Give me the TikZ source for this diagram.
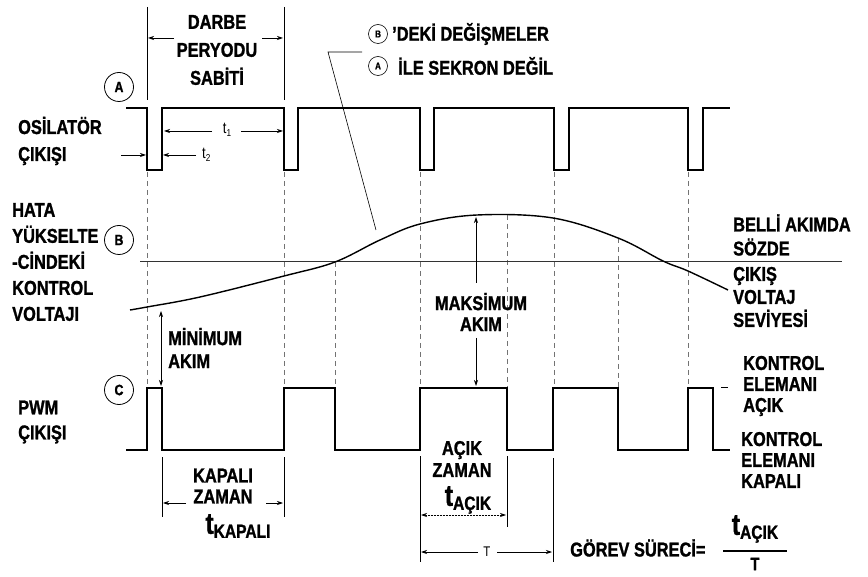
\documentclass[tikz,border=0pt]{standalone}
\usepackage{fontspec}
\setmainfont{Liberation Sans}[FakeStretch=0.82, BoldFeatures={FakeBold=1.2}]
\usetikzlibrary{arrows.meta}
\newcommand{\bigt}[1]{{\fontsize{30}{30}\selectfont t}\raisebox{-4pt}{\fontsize{19}{19}\selectfont #1}}
\newcommand{\smallt}[1]{t\raisebox{-3pt}{\fontsize{10}{10}\selectfont #1}}
\tikzset{
  lab/.style={font=\fontsize{20}{#1}\selectfont\bfseries, inner sep=0pt, align=left, anchor=west},
  lab/.default=20,
  clab/.style={font=\fontsize{20}{#1}\selectfont\bfseries, inner sep=0pt, align=center, anchor=center},
  clab/.default=20,
  wave/.style={line width=1.6pt, line join=miter},
  guide/.style={dash pattern=on 5pt off 4pt, line width=0.7pt, color=black!55},
  dim/.style={line width=0.6pt},
  arr/.style={-{Stealth[length=6pt,width=4pt]}, line width=0.7pt},
  circ/.style={circle, draw, line width=0.8pt, minimum size=29pt, inner sep=0pt, font=\fontsize{15}{15}\selectfont\bfseries},
  scirc/.style={circle, draw, line width=0.6pt, minimum size=19pt, inner sep=0pt, font=\fontsize{10}{10}\selectfont\bfseries},
}
\begin{document}
\begin{tikzpicture}[x=1pt,y=-1pt]
\useasboundingbox (0,0) rectangle (868,577);

% vertical guides
\foreach \x/\ya in {147/172,284/172,335/262,420/172,507/215,554/172,618/238,688/172}
  \draw[guide] (\x,\ya) -- (\x,388);

% reference line
\draw[line width=0.6pt, black!80] (140,261) -- (842,261);

% error amplifier curve
\draw[line width=1.4pt] plot[smooth, tension=0.6] coordinates {(130,310) (147,307) (200,297) (284,276) (335,262) (380,240) (420,224) (477,215) (553,218) (618,238) (663,261) (688,271) (728,290)};

% oscillator waveform
\draw[wave] (126,108) -- (147,108) -- (147,170) -- (162,170) -- (162,108) -- (284,108) -- (284,170) -- (298,170) -- (298,108) -- (420,108) -- (420,170) -- (434,170) -- (434,108) -- (554,108) -- (554,170) -- (569,170) -- (569,108) -- (688,108) -- (688,170) -- (703,170) -- (703,108) -- (730,108);

% PWM waveform
\draw[wave] (126,450) -- (147,450) -- (147,388) -- (162,388) -- (162,450) -- (284,450) -- (284,388) -- (335,388) -- (335,450) -- (420,450) -- (420,388) -- (507,388) -- (507,450) -- (553,450) -- (553,388) -- (618,388) -- (618,450) -- (688,450) -- (688,388) -- (713,388) -- (713,450) -- (730,450);

% circles
\node[circ] (cA) at (119,87) {A};
\node[circ] (cB) at (119,240) {B};
\node[circ] (cC) at (119,390) {C};

% left labels
\node[lab=27] (osc) at (18,141) {OSİLATÖR\\ÇIKIŞI};
\node[lab=26] (hata) at (12,262) {HATA\\YÜKSELTE\\-CİNDEKİ\\KONTROL\\VOLTAJI};
\node[lab=25] (pwm) at (18,422) {PWM\\ÇIKIŞI};

% darbe peryodu
\coordinate (dlt) at (147,7); \coordinate (dlb) at (147,100);
\coordinate (drt) at (284,7); \coordinate (drb) at (284,100);
\draw[dim] (dlt) -- (dlb);
\draw[dim] (drt) -- (drb);
\node[clab=28] (darbe) at (217,50) {DARBE\\PERYODU\\SABİTİ};
\coordinate (da1) at (174,38); \coordinate (da2) at (148,38);
\coordinate (da3) at (262,38); \coordinate (da4) at (283,38);
\draw[arr] (da1) -- (da2);
\draw[arr] (da3) -- (da4);

% t1, t2
\node[font=\fontsize{16}{16}\selectfont, inner sep=1pt] (t1) at (227,130) {\smallt{1}};
\coordinate (t1l) at (164,131); \coordinate (t1r) at (283,131);
\coordinate (t1a) at (212,131); \coordinate (t1b) at (241,131);
\draw[arr] (t1a) -- (t1l);
\draw[arr] (t1b) -- (t1r);
\node[font=\fontsize{16}{16}\selectfont, inner sep=1pt, anchor=west] (t2) at (201,155) {\smallt{2}};
\coordinate (t2a) at (121,155); \coordinate (t2b) at (146,155);
\coordinate (t2c) at (196,155); \coordinate (t2d) at (163,155);
\draw[arr] (t2a) -- (t2b);
\draw[arr] (t2c) -- (t2d);

% annotation top
\node[scirc] (sB) at (378,34) {B};
\node[lab] (deki) at (392,34) {'DEKİ DEĞİŞMELER};
\node[scirc] (sA) at (378,66) {A};
\node[lab] (ile) at (398,66) {İLE SEKRON DEĞİL};
\coordinate (l1) at (362,52); \coordinate (l2) at (328,52); \coordinate (l3) at (376,230);
\draw[dim] (l1) -- (l2) -- (l3);

% minimum current
\coordinate (mn1) at (161,311); \coordinate (mn2) at (161,386);
\draw[{Stealth[length=6pt,width=4pt]}-{Stealth[length=6pt,width=4pt]}, line width=0.7pt] (mn1) -- (mn2);
\node[lab=23] (minim) at (168,348) {MİNİMUM\\AKIM};

% maximum current
\node[clab=21] (maks) at (481,312) {MAKSİMUM\\AKIM};
\coordinate (mx1) at (476,283); \coordinate (mx2) at (476,217);
\coordinate (mx3) at (476,338); \coordinate (mx4) at (476,386);
\draw[arr] (mx1) -- (mx2);
\draw[arr] (mx3) -- (mx4);

% right labels
\node[lab=24] (belli) at (733,235) {BELLİ AKIMDA\\SÖZDE};
\node[lab=23] (cikis) at (733,297) {ÇIKIŞ\\VOLTAJ\\SEVİYESİ};
\node[lab=21] (kacik) at (743,386) {KONTROL\\ELEMANI\\AÇIK};
\coordinate (kd1) at (721,387); \coordinate (kd2) at (728,387);
\draw[line width=0.6pt] (kd1) -- (kd2);
\node[lab=21] (kkapali) at (741,460) {KONTROL\\ELEMANI\\KAPALI};

% kapali zaman
\coordinate (k1t) at (162,457); \coordinate (k1b) at (162,517);
\coordinate (k2t) at (284,457); \coordinate (k2b) at (284,517);
\draw[dim] (k1t) -- (k1b);
\draw[dim] (k2t) -- (k2b);
\coordinate (ka1) at (186,503); \coordinate (ka2) at (163,503);
\coordinate (ka3) at (266,503); \coordinate (ka4) at (283,503);
\draw[arr] (ka1) -- (ka2);
\draw[arr] (ka3) -- (ka4);
\node[clab=21] (kapz) at (223,486) {KAPALI\\ZAMAN};
\node[font=\bfseries, inner sep=0pt] (tkap) at (238,526) {\bigt{KAPALI}};

% acik zaman
\coordinate (a1t) at (420,456); \coordinate (a1b) at (420,562);
\coordinate (a2t) at (507,456); \coordinate (a2b) at (507,527);
\coordinate (a3t) at (553,458); \coordinate (a3b) at (553,562);
\draw[dim] (a1t) -- (a1b);
\draw[dim] (a2t) -- (a2b);
\draw[dim] (a3t) -- (a3b);
\node[clab=22] (acz) at (462,459) {AÇIK\\ZAMAN};
\node[font=\bfseries, inner sep=0pt] (tac) at (468,500) {\bigt{AÇIK}};
\coordinate (ac1) at (421,515); \coordinate (ac2) at (506,515);
\draw[{Stealth[length=6pt,width=4pt]}-{Stealth[length=6pt,width=4pt]}, line width=0.7pt, dash pattern=on 2pt off 1pt] (ac1) -- (ac2);
\node[font=\fontsize{14}{14}\selectfont, inner sep=1pt] (T) at (487,552) {T};
\coordinate (Tl) at (421,552); \coordinate (Tr) at (552,552);
\coordinate (Ta) at (478,552); \coordinate (Tb) at (497,552);
\draw[arr] (Ta) -- (Tl);
\draw[arr] (Tb) -- (Tr);

% duty cycle
\node[lab] (gorev) at (570,548) {GÖREV SÜRECİ=};
\node[font=\bfseries, inner sep=0pt] (fnum) at (755,529) {\bigt{AÇIK}};
\coordinate (fb1) at (723,551); \coordinate (fb2) at (787,551);
\draw[line width=1.5pt] (fb1) -- (fb2);
\node[font=\fontsize{18}{18}\selectfont\bfseries, inner sep=0pt] (fden) at (755,564) {T};
\end{tikzpicture}
\end{document}
